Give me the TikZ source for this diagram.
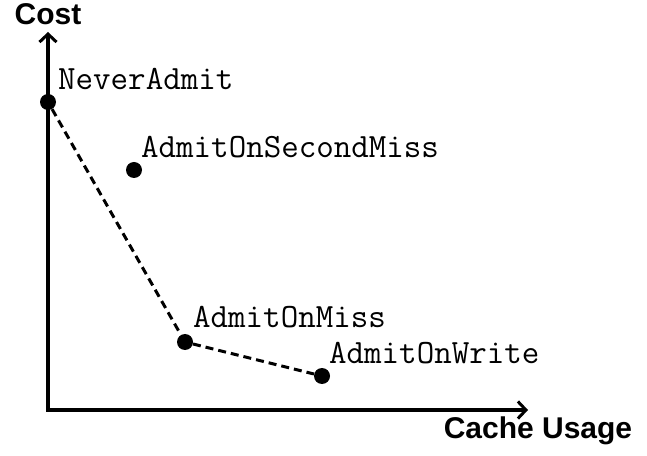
\documentclass[tikz,border=0pt]{standalone}
\usepackage{fontspec}
\setmainfont{Liberation Sans}
\setsansfont{Liberation Sans}
\usetikzlibrary{arrows.meta}
\begin{document}
\begin{tikzpicture}[x=1pt, y=1pt,
  dot/.style={circle, fill=black, inner sep=0pt, minimum size=16pt},
  lbl/.style={anchor=base west, inner sep=0pt, font=\fontsize{34pt}{38pt}\selectfont\ttfamily},
  axlbl/.style={inner sep=0pt, font=\fontsize{30pt}{36pt}\selectfont\bfseries\sffamily},
  axis/.style={line width=3.5pt, -{Straight Barb[length=8pt, width=17pt, line width=3pt]}}]
\fill [color=white] (0, 0) rectangle (647, 455);

\coordinate (o) at (48, 45);
\coordinate (ytip) at (48, 423);
\coordinate (xtip) at (528, 45);
\draw [axis] ([yshift=-1.75pt]o) -- (ytip);
\draw [axis] ([xshift=-1.75pt]o) -- (xtip);
\node [axlbl] (cost) at (48, 441) {Cost};
\node [axlbl] (usage) at (538, 24) {Cache Usage};

\node [dot] (nv) at (48, 353) {};
\node [lbl] (nvl) at (58, 365) {NeverAdmit};
\node [dot] (sm) at (134, 285) {};
\node [lbl] (sml) at (141, 297) {AdmitOnSecondMiss};
\node [dot] (am) at (185, 113) {};
\node [lbl] (aml) at (193, 127) {AdmitOnMiss};
\node [dot] (aw) at (322, 79) {};
\node [lbl] (awl) at (329, 92) {AdmitOnWrite};

\draw [line width=3pt, dash pattern=on 8pt off 5pt] (nv) -- (am) -- (aw);
\end{tikzpicture}
\end{document}
